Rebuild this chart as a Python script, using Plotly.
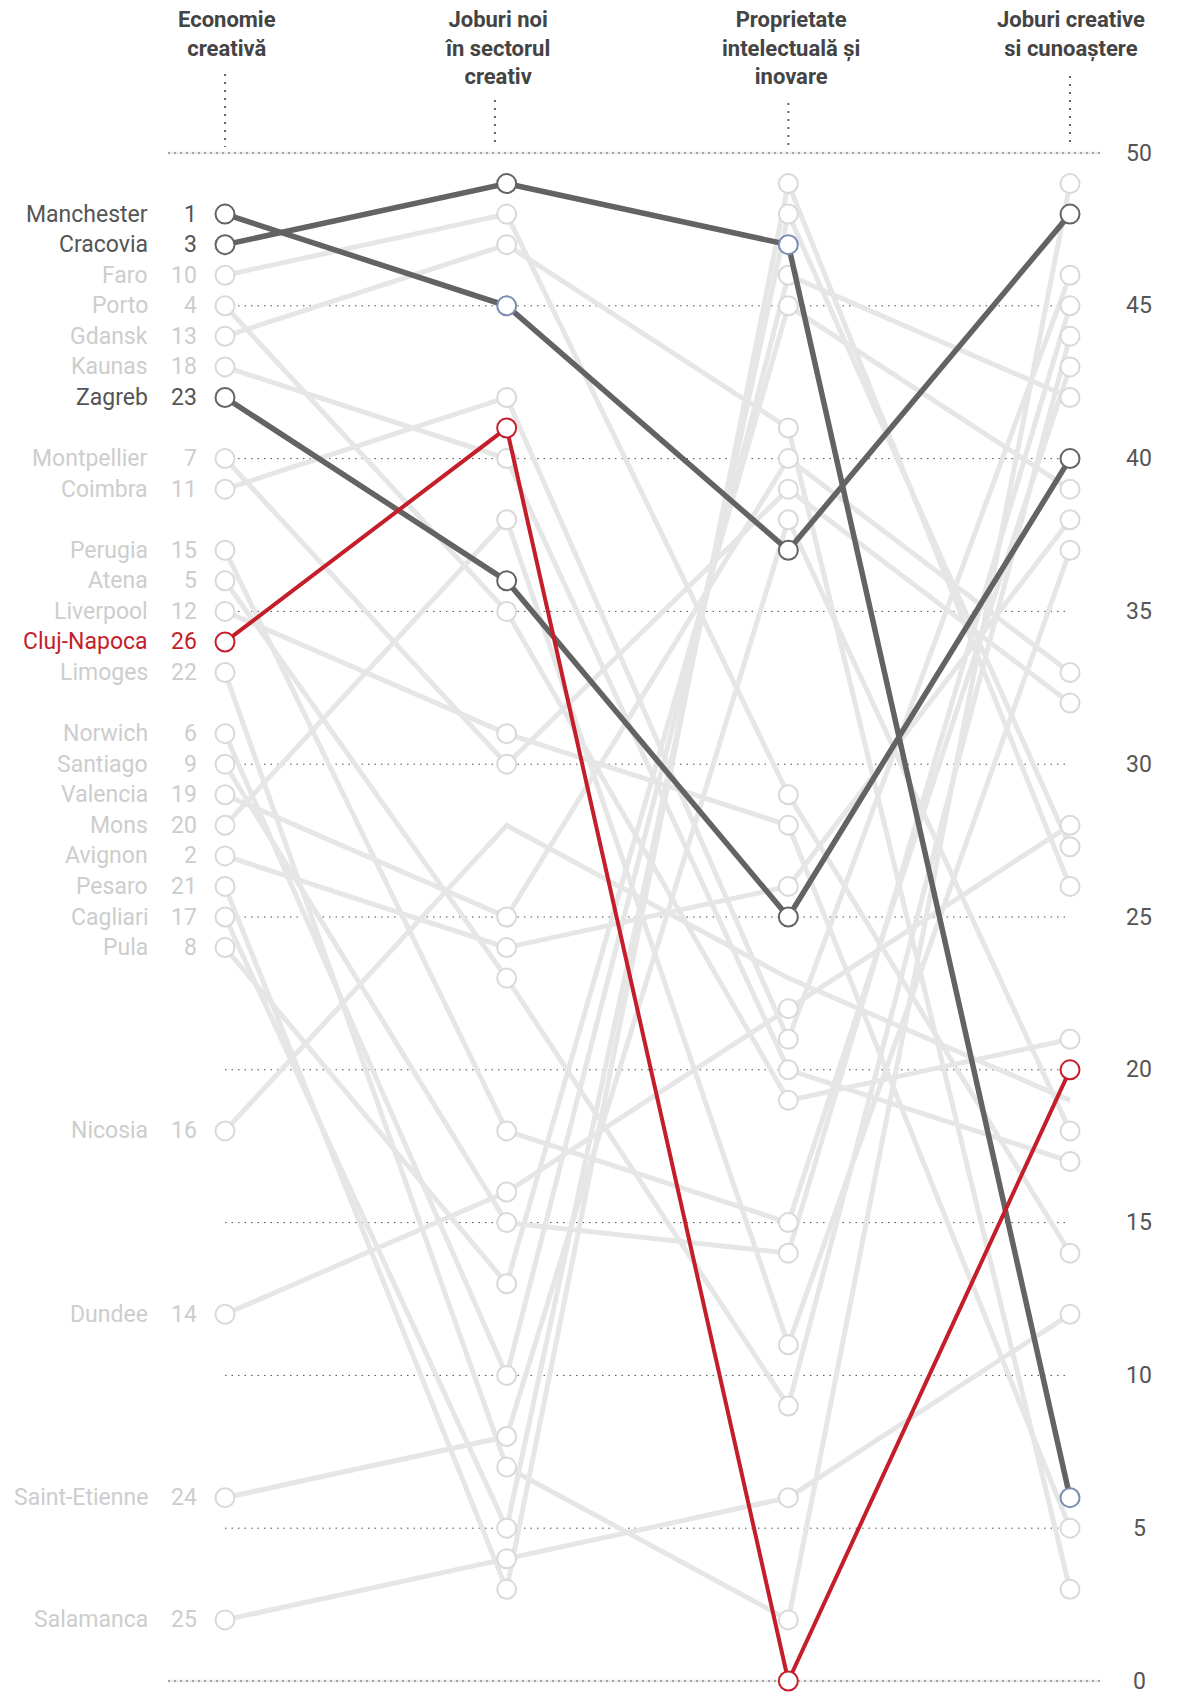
import plotly.graph_objects as go

# DATE: ORASE, LOC IN CLASAMENT SI SCORURI PE CELE 4 COLOANE
orase = ['Manchester', 'Cracovia', 'Faro', 'Porto', 'Gdansk', 'Kaunas', 'Zagreb',
         'Montpellier', 'Coimbra', 'Perugia', 'Atena', 'Liverpool', 'Cluj-Napoca',
         'Limoges', 'Norwich', 'Santiago', 'Valencia', 'Mons', 'Avignon', 'Pesaro',
         'Cagliari', 'Pula', 'Nicosia', 'Dundee', 'Saint-Etienne', 'Salamanca']
ranguri = [1, 3, 10, 4, 13, 18, 23, 7, 11, 15, 5, 12, 26, 22, 6, 9, 19, 20, 2, 21,
           17, 8, 16, 14, 24, 25]
economie_creativa = [48, 47, 46, 45, 44, 43, 42, 40, 39, 37, 36, 35, 34, 33, 31, 30,
                     29, 28, 27, 26, 25, 24, 18, 12, 6, 2]
joburi_noi = [45, 49, 48, 35, 47, 40, 36, 30, 42, 18, 23, 31, 41, 7, 10, 15, 25, 38,
              24, 3, 5, 13, 28, 16, 8, 4]
proprietate = [37, 47, 29, 19, 41, 20, 25, 39, 21, 15, 9, 28, 0, 2, 46, 14, 40, 11,
               26, 49, 48, 45, 23, 22, 38, 6]
joburi_creative = [48, 6, 14, 21, 3, 17, 40, 32, 46, 43, 44, 5, 20, 49, 42, 45, 33, 37,
                   38, 26, 27.3, 39, 19, 28, 18, 12]

coloane = ['Economie<br>creativă', 'Joburi noi<br>în sectorul<br>creativ',
           'Proprietate<br>intelectuală și<br>inovare', 'Joburi creative<br>si cunoaștere']
valori_axa = [0, 5, 10, 15, 20, 25, 30, 35, 40, 45, 50]

# STILURI
GRI = '#e6e6e6'
GRI_CERC = '#d9d9d9'
GRI_TEXT = '#cdcdcd'
INCHIS = '#636363'
ROSU = '#c41e2a'
ALBASTRU = '#7b8db0'
FONT = 'Roboto'

culori = {'Manchester': INCHIS, 'Cracovia': INCHIS, 'Zagreb': INCHIS, 'Cluj-Napoca': ROSU}
puncte_albastre = {('Manchester', 1), ('Cracovia', 2), ('Cracovia', 3)}
fara_cerc = {('Nicosia', 1), ('Nicosia', 2), ('Nicosia', 3)}

# POZITII IN PIXELI (AI PAGINII) -> UNITATI DE DATE
# pagina are o margine de 8px, asa ca axele sunt mutate cu 8px
MARGINE = 8
LATIME, INALTIME = 1179, 1697
px_col = 281.67
x0 = 225
def xd(px):
    return (px - x0) / px_col

px_unit = 30.56
def yd(py):
    return 50 - (py - 153) / px_unit

def yp(py):
    # pixel pe pagina -> coordonata 'paper'
    return 1 - (py - MARGINE) / INALTIME

fig = go.Figure()

def adauga_oras(i, culoare, latime):
    vals = [economie_creativa[i], joburi_noi[i], proprietate[i], joburi_creative[i]]
    fig.add_trace(go.Scatter(x=[0, 1, 2, 3], y=vals, mode='lines',
                             line=dict(color=culoare, width=latime),
                             hoverinfo='skip'))

def adauga_cercuri(i, culoare):
    nume = orase[i]
    vals = [economie_creativa[i], joburi_noi[i], proprietate[i], joburi_creative[i]]
    xs, ys, cs = [], [], []
    for k in range(4):
        if (nume, k) in fara_cerc:
            continue
        xs.append(k)
        ys.append(vals[k])
        cs.append(ALBASTRU if (nume, k) in puncte_albastre else culoare)
    fig.add_trace(go.Scatter(x=xs, y=ys, mode='markers',
                             marker=dict(size=19, color='white',
                                         line=dict(color=cs, width=2)),
                             hoverinfo='skip'))

# LINIILE GRI, APOI CERCURILE GRI
for i, nume in enumerate(orase):
    if nume not in culori:
        adauga_oras(i, GRI, 5)
for i, nume in enumerate(orase):
    if nume not in culori:
        adauga_cercuri(i, GRI_CERC)

# ORASELE EVIDENTIATE DEASUPRA
for nume in ['Manchester', 'Cracovia', 'Zagreb', 'Cluj-Napoca']:
    i = orase.index(nume)
    adauga_oras(i, culori[nume], 5.5 if nume != 'Cluj-Napoca' else 4)
    adauga_cercuri(i, culori[nume])

# GRILA ORIZONTALA PUNCTATA
for v in valori_axa:
    if v in (0, 50):
        fig.add_shape(type='line', x0=xd(168), x1=xd(1100), y0=v, y1=v,
                      line=dict(color='#ebebeb', width=2.5), layer='below')
        fig.add_shape(type='line', x0=xd(168), x1=xd(1100), y0=v, y1=v,
                      line=dict(color='#8c8c8c', width=1.5, dash='2px,4px'), layer='below')
    else:
        fig.add_shape(type='line', x0=0, x1=3, y0=v, y1=v,
                      line=dict(color='#4d4d4d', width=1, dash='1.5px,5px'), layer='below')
    fig.add_annotation(x=xd(1139), y=v, text=str(v), showarrow=False,
                       xanchor='center', yanchor='middle',
                       font=dict(family=FONT, size=23, color='#555555'))

# TITLURILE COLOANELOR SI LINIILE VERTICALE
titlu_x = [xd(227), xd(497), xd(791), xd(1071)]
linie_x = [0, xd(495), 2, 3]
linie_sus = [74, 100, 103, 76]
for k in range(4):
    fig.add_annotation(x=titlu_x[k], xref='x', y=yp(5), yref='paper',
                       text='<b>' + coloane[k] + '</b>',
                       showarrow=False, xanchor='center', yanchor='top',
                       font=dict(family=FONT, size=22, color='#444444'))
    fig.add_shape(type='line', x0=linie_x[k], x1=linie_x[k], y0=yd(linie_sus[k]), y1=yd(147),
                  line=dict(color='#666666', width=2, dash='2px,6px'))

# ETICHETELE DIN STANGA
for i, nume in enumerate(orase):
    c = culori.get(nume, GRI_TEXT)
    if c == INCHIS:
        c = '#555555'
    fig.add_annotation(x=xd(150), y=economie_creativa[i], text=nume, showarrow=False,
                       xanchor='right', yanchor='middle',
                       font=dict(family=FONT, size=23, color=c))
    fig.add_annotation(x=xd(199), y=economie_creativa[i], text=str(ranguri[i]),
                       showarrow=False, xanchor='right', yanchor='middle',
                       font=dict(family=FONT, size=23, color=c))

fig.update_layout(
    width=LATIME, height=INALTIME,
    margin=dict(l=0, r=0, t=0, b=0),
    paper_bgcolor='white', plot_bgcolor='white',
    showlegend=False, hovermode=False,
    xaxis=dict(range=[xd(MARGINE), xd(LATIME + MARGINE)], visible=False, fixedrange=True),
    yaxis=dict(range=[yd(INALTIME + MARGINE), yd(MARGINE)], visible=False, fixedrange=True),
)

fig.write_html('out.html')
